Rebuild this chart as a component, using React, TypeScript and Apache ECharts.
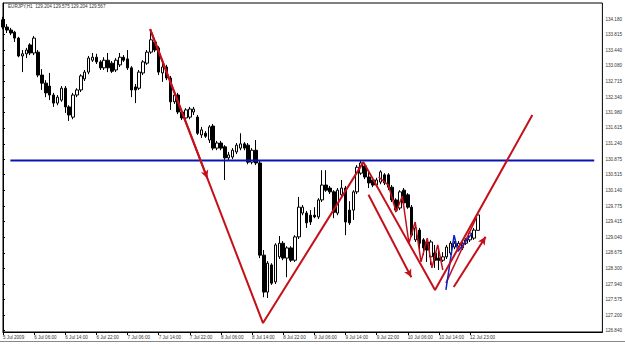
import React, { useEffect, useRef } from 'react';
import * as echarts from 'echarts';

const symbolName = 'EURJPY,H1';

// x-axis tick labels at bar indices (hourly bars)
const timeTickIdx = [0, 8, 16, 24, 32, 40, 48, 56, 64, 72, 80, 88, 96, 104, 112, 120];
const timeTickText = ['5 Jul 2009', '6 Jul 06:00', '6 Jul 14:00', '6 Jul 22:00', '7 Jul 06:00', '7 Jul 14:00',
  '7 Jul 22:00', '8 Jul 06:00', '8 Jul 14:00', '8 Jul 22:00', '9 Jul 06:00', '9 Jul 14:00', '9 Jul 22:00',
  '10 Jul 06:00', '10 Jul 14:00', '12 Jul 23:00'];

const priceTicks = [134.18, 133.815, 133.44, 133.08, 132.715, 132.34, 131.98, 131.615, 131.24, 130.875,
  130.515, 130.14, 129.775, 129.415, 129.04, 128.675, 128.3, 127.94, 127.575, 127.2, 126.84];

const opens = [134.16, 133.99, 133.92, 133.87, 133.73, 133.31, 133.36, 133.57, 133.38, 133.40,
  132.86, 132.67, 132.60, 132.39, 132.20, 132.27, 132.55, 132.11, 131.87, 132.39,
  132.51, 132.77, 132.93, 133.21, 133.28, 133.17, 133.03, 133.21, 133.14, 132.98,
  133.10, 133.28, 133.24, 133.03, 132.58, 132.55, 132.91, 133.14, 133.40, 133.64,
  133.50, 132.91, 133.05, 132.79, 132.23, 132.39, 131.99, 131.85, 131.87, 131.99,
  131.87, 131.45, 131.49, 131.33, 131.66, 131.14, 131.26, 131.17, 130.91, 130.93,
  131.05, 131.14, 131.24, 131.21, 130.81, 131.09, 130.79, 128.62, 127.75, 128.39,
  127.99, 128.58, 128.90, 128.55, 128.79, 128.50, 129.05, 129.61, 129.61, 129.56,
  129.56, 129.52, 129.92, 130.27, 130.20, 130.11, 129.61, 130.04, 130.20, 129.68,
  129.68, 130.11, 130.55, 130.72, 130.46, 130.39, 130.27, 130.34, 130.51, 130.51,
  130.22, 129.92, 129.73, 130.15, 130.04, 129.75, 128.98, 129.21, 128.98, 128.93,
  128.58, 128.67, 128.55, 128.50, 128.58, 128.67, 128.81, 128.83, 128.79, 128.90,
  128.98, 129.02, 129.204];
const closes = [133.99, 133.92, 133.85, 133.73, 133.31, 133.36, 133.45, 133.38, 133.73, 132.86,
  132.67, 132.44, 132.39, 132.20, 132.34, 132.55, 132.11, 131.92, 132.39, 132.51,
  132.84, 132.93, 133.26, 133.28, 133.17, 133.03, 133.21, 133.03, 132.95, 133.21,
  133.28, 133.21, 133.03, 132.51, 132.51, 132.93, 133.17, 133.40, 133.69, 133.45,
  132.93, 133.05, 132.79, 132.23, 132.39, 131.99, 131.85, 132.04, 132.06, 132.06,
  131.49, 131.57, 131.42, 131.64, 131.14, 131.26, 131.14, 130.91, 130.98, 131.09,
  131.21, 131.24, 131.14, 130.81, 131.09, 130.79, 128.62, 127.75, 128.43, 127.96,
  128.86, 128.90, 128.55, 128.79, 128.50, 129.05, 129.75, 129.75, 129.38, 129.40,
  129.52, 129.92, 130.27, 130.15, 130.11, 129.63, 130.15, 130.20, 129.40, 129.38,
  130.11, 130.69, 130.79, 130.46, 130.32, 130.27, 130.39, 130.58, 130.32, 130.22,
  129.92, 129.68, 130.11, 129.85, 129.75, 129.09, 129.26, 128.90, 128.79, 128.74,
  128.93, 128.50, 128.50, 128.58, 128.81, 128.90, 128.90, 128.90, 128.90, 128.98,
  129.14, 129.21, 129.567];
const lows = [133.94, 133.85, 133.80, 133.64, 133.28, 132.93, 133.26, 133.33, 133.33, 132.81,
  132.51, 132.34, 132.27, 132.11, 132.15, 132.23, 131.97, 131.78, 131.82, 132.34,
  132.46, 132.72, 132.88, 133.17, 133.12, 132.98, 132.98, 132.93, 132.91, 132.93,
  133.05, 133.17, 132.98, 132.34, 132.20, 132.51, 132.86, 133.10, 133.36, 133.40,
  132.86, 132.70, 132.74, 132.04, 132.18, 131.94, 131.80, 131.80, 131.82, 131.92,
  131.45, 131.38, 131.38, 131.26, 131.09, 131.09, 131.09, 130.39, 130.86, 130.88,
  131.00, 131.09, 131.09, 130.76, 130.76, 130.74, 128.55, 127.63, 127.61, 127.92,
  127.94, 128.53, 128.50, 128.10, 128.46, 128.46, 129.00, 129.56, 129.26, 129.33,
  129.49, 129.47, 129.87, 130.11, 130.06, 129.49, 129.56, 129.99, 129.09, 129.33,
  129.45, 130.06, 130.51, 130.41, 130.20, 130.22, 130.22, 130.29, 130.27, 130.15,
  129.87, 129.63, 129.68, 129.80, 129.71, 129.05, 128.93, 128.74, 128.62, 128.46,
  128.39, 128.32, 128.27, 128.46, 128.53, 128.62, 128.76, 128.79, 128.74, 128.86,
  128.93, 128.98, 129.204];
const highs = [134.23, 134.06, 133.97, 133.90, 133.76, 133.45, 133.50, 133.61, 133.78, 133.45,
  133.00, 132.74, 132.91, 132.44, 132.39, 132.60, 132.60, 132.15, 132.44, 132.55,
  132.88, 132.98, 133.31, 133.38, 133.36, 133.21, 133.28, 133.38, 133.19, 133.26,
  133.38, 133.33, 133.45, 133.07, 132.65, 132.98, 133.21, 133.45, 133.94, 133.73,
  133.54, 133.17, 133.10, 132.84, 132.46, 132.44, 132.04, 132.08, 132.11, 132.11,
  131.92, 131.64, 131.54, 131.68, 131.71, 131.31, 131.31, 131.21, 131.05, 131.14,
  131.26, 131.49, 131.28, 131.26, 131.14, 131.33, 130.84, 128.74, 128.48, 128.43,
  128.90, 129.07, 128.95, 128.83, 128.83, 129.09, 129.99, 129.80, 129.66, 129.68,
  129.75, 129.96, 130.62, 130.62, 130.25, 130.15, 130.20, 130.39, 130.25, 129.89,
  130.15, 130.74, 130.86, 130.76, 130.58, 130.44, 130.44, 130.62, 130.55, 130.55,
  130.27, 129.96, 130.15, 130.20, 130.08, 129.80, 129.31, 129.26, 129.02, 128.98,
  128.98, 128.86, 128.74, 128.69, 128.86, 128.95, 128.95, 128.95, 128.95, 129.02,
  129.19, 129.26, 129.575];

// hand-drawn annotation lines (bar index, price)
const wPathX = [37.8, 66.8, 92.6, 111.0, 136.0];
const wPathY = [133.94, 127.02, 130.81, 127.80, 131.92];
const levelX = [1.9, 151.9];
const levelY = [130.85, 130.85];
const arrowDownFrom = [93.9, 130.04];
const arrowDownTo = [104.9, 128.1];
const arrowUpFrom = [115.8, 127.87];
const arrowUpTo = [124.0, 129.05];
const midArrowFrom = [37.8, 133.94];
const midArrowTo = [52.5, 130.43];
const zigX = [96.5, 99.0, 101.0, 102.6, 104.3, 105.9, 107.4, 109.0, 110.2, 111.7, 113.0];
const zigY = [130.46, 130.27, 129.64, 130.01, 128.90, 129.40, 128.46, 129.02, 128.32, 128.86, 128.27];
const blueLegX = [113.8, 115.9, 116.9, 120.4];
const blueLegY = [127.80, 129.09, 128.71, 129.12];
const riseLegX = [113.8, 121.7];
const riseLegY = [127.96, 129.52];

const slotCount = 155;
const RED = '#c4101a';
const FONT = 'Liberation Sans, Arial, sans-serif';

export default function App() {
  const ref = useRef<HTMLDivElement>(null);
  useEffect(() => {
    const chart = echarts.init(ref.current!, null, { renderer: 'svg', width: 625, height: 345 });
    const categories = Array.from({ length: slotCount }, (_, i) => String(i));
    const candles = opens.map((o, i) => [o, closes[i], lows[i], highs[i]]);
    const tickMap = new Map<number, string>();
    timeTickIdx.forEach((t, i) => tickMap.set(t, timeTickText[i]));
    const n = opens.length - 1;
    const header = `${symbolName}  ${opens[n].toFixed(3)} ${highs[n].toFixed(3)} ${lows[n].toFixed(3)} ${closes[n].toFixed(3)}`;
    const pts = (xs: number[], ys: number[]) => xs.map((x, i) => [x, ys[i]]);
    const yMin = 126.81;
    const yMax = 134.557;

    const option: any = {
      animation: false,
      backgroundColor: '#ffffff',
      grid: { left: 2.5, right: 19.7, top: 3, bottom: 13, show: true, borderColor: '#000', borderWidth: 1, backgroundColor: 'transparent' },
      xAxis: [
        {
          type: 'category', data: categories, boundaryGap: false,
          axisLine: { show: true, lineStyle: { color: '#000', width: 1 } },
          axisTick: { show: true, length: 3, interval: (i: number) => tickMap.has(i), lineStyle: { color: '#000' } },
          axisLabel: {
            show: true, interval: (i: number) => tickMap.has(i), formatter: (_v: string, i: number) => tickMap.get(i) || '',
            fontSize: 4.6, color: '#333', fontFamily: FONT, align: 'left', margin: 2.5,
          },
          splitLine: { show: false },
        },
        { type: 'value', min: 0, max: slotCount - 1, show: false },
      ],
      yAxis: {
        type: 'value', position: 'right', min: yMin, max: yMax, scale: true,
        axisLine: { show: true, lineStyle: { color: '#000' } },
        axisTick: { show: true, length: 2, customValues: priceTicks, lineStyle: { color: '#000' } },
        axisLabel: { show: true, customValues: priceTicks, formatter: (v: number) => v.toFixed(3), fontSize: 4.6, color: '#333', fontFamily: FONT, margin: 3 },
        splitLine: { show: false },
      },
      graphic: [
        { type: 'text', left: 8, top: 3.5, style: { text: header, fontSize: 4.6, fill: '#333', fontFamily: FONT } },
        { type: 'line', shape: { x1: 0, y1: 341.5, x2: 625, y2: 341.5 }, style: { stroke: '#888', lineWidth: 1 } },
      ],
      series: [
        {
          type: 'candlestick', data: candles, barWidth: 3, xAxisIndex: 0, clip: false,
          itemStyle: { color: '#ffffff', color0: '#000000', borderColor: '#000000', borderColor0: '#000000', borderWidth: 1 },
          markLine: {
            silent: true, symbol: 'none', animation: false,
            lineStyle: { opacity: 0 },
            label: { show: true, position: 'end', distance: 0, formatter: closes[n].toFixed(3), backgroundColor: '#000', color: '#fff', fontSize: 4.6, fontFamily: FONT, padding: [1, 1, 0, 1] },
            data: [{ yAxis: closes[n] }],
          },
        },
        {
          type: 'line', xAxisIndex: 1, data: pts(levelX, levelY), symbol: 'none',
          lineStyle: { color: '#0a14b4', width: 2 },
        },
        {
          type: 'line', xAxisIndex: 1, data: pts(zigX, zigY), symbol: 'none',
          lineStyle: { color: RED, width: 1.5 },
        },
        {
          type: 'line', xAxisIndex: 1, data: pts(riseLegX, riseLegY), symbol: 'none',
          lineStyle: { color: RED, width: 1.5 },
        },
        {
          type: 'line', xAxisIndex: 1, data: pts(blueLegX, blueLegY), symbol: 'none',
          lineStyle: { color: '#1020c8', width: 1.5 },
        },
        {
          type: 'line', xAxisIndex: 1, data: pts(wPathX, wPathY), symbol: 'none',
          lineStyle: { color: RED, width: 2 },
          markLine: {
            silent: true, animation: false, symbol: ['none', 'arrow'], symbolSize: [6, 8],
            lineStyle: { color: RED, width: 2, type: 'solid' },
            label: { show: false },
            data: [
              [{ coord: arrowDownFrom }, { coord: arrowDownTo }],
              [{ coord: arrowUpFrom }, { coord: arrowUpTo }],
              [{ coord: midArrowFrom }, { coord: midArrowTo }],
            ],
          },
        },
      ],
    };
    chart.setOption(option);
    return () => chart.dispose();
  }, []);
  return <div ref={ref} style={{ position: 'fixed', left: 0, top: 0, width: 625, height: 345, background: '#fff' }} />;
}
